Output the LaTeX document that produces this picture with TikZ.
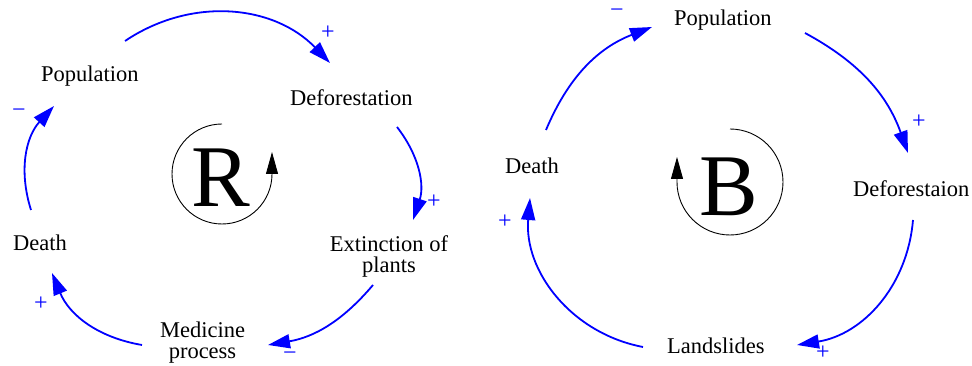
\documentclass[tikz,border=0pt]{standalone}
\usepackage{fontspec}
\setmainfont{Liberation Serif}
\usetikzlibrary{arrows.meta,calc}
\definecolor{linkblue}{RGB}{0,0,255}
\begin{document}
\begin{tikzpicture}[x=1pt,y=1pt,
  lbl/.style={inner sep=0pt, font=\fontsize{22.5}{21}\selectfont},
  sgn/.style={inner sep=0pt, text=linkblue, font=\fontsize{24}{24}\selectfont},
  big/.style={inner sep=0pt, font=\fontsize{88}{88}\selectfont},
  cld/.style={draw=linkblue, line width=1.8pt, -{Triangle[length=22pt,width=14pt]}},
  looparrow/.style={draw=black, line width=0.9pt, -{Triangle[length=22pt,width=12pt]}}]
\useasboundingbox (0,0) rectangle (972,366);

% ---------- left loop (R) ----------
\node[lbl, anchor=base west] (popL) at (41,284) {Population};
\node[lbl, anchor=base west] (defL) at (290,260) {Deforestation};
\node[lbl, align=center] (extL) at (389,110) {Extinction of\\plants};
\node[lbl, align=center] (medL) at (202.5,23) {Medicine\\process};
\node[lbl, anchor=base west] (deaL) at (13,115.3) {Death};

\draw[cld] ($(popL.base west)+(84,41)$) to[bend left=40] ($(defL.base west)+(40,43)$);
\draw[cld] ($(defL.base west)+(107,-21)$) to[bend left=28] ($(extL)+(24,36)$);
\draw[cld] ($(extL)+(-16,-29)$) to[bend left=20] ($(medL)+(65.5,-2)$);
\draw[cld] ($(medL)+(-60.5,-2)$) to[bend left=29] ($(deaL.base west)+(39,-22.3)$);
\draw[cld] ($(deaL.base west)+(18,40.7)$) to[bend left=30] ($(popL.base west)+(13,-24)$);

\node[sgn] (s1) at (328,333) {+};
\node[sgn] (s2) at (434,164) {+};
\node[sgn] (s3) at (290,10) {−};
\node[sgn] (s4) at (41,62) {+};
\node[sgn] (s5) at (19,253) {−};

\node[big] (rL) at (221,188) {R};
\draw[looparrow] ($(rL)+(1,54)$) arc[start angle=90, end angle=360, radius=50] -- ++(0,22);

% ---------- right loop (B) ----------
\node[lbl, anchor=base west] (popR) at (674,340.3) {Population};
\node[lbl, anchor=base west] (deaR) at (505,192) {Death};
\node[lbl, anchor=base west] (defR) at (853,169.3) {Deforestaion};
\node[lbl, anchor=base west] (lanR) at (667,12.7) {Landslides};

\draw[cld] ($(deaR.base west)+(41,44)$) to[bend left=23] ($(popR.base west)+(-22,-1.3)$);
\draw[cld] ($(popR.base west)+(131,-7.3)$) to[bend left=21] ($(defR.base west)+(55,43.7)$);
\draw[cld] ($(defR.base west)+(60,-23.3)$) to[bend left=38] ($(lanR.base west)+(130,8.3)$);
\draw[cld] ($(lanR.base west)+(-24,6.3)$) to[bend left=42] ($(deaR.base west)+(25,-24)$);

\node[sgn] (s6) at (617,353) {−};
\node[sgn] (s7) at (919,244) {+};
\node[sgn] (s8) at (823,13) {+};
\node[sgn] (s9) at (505,144) {+};

\node[big] (bR) at (729,179.5) {B};
\draw[looparrow] ($(bR)+(1,57.5)$) arc[start angle=90, end angle=-180, radius=53] -- ++(0,25);
\end{tikzpicture}
\end{document}
